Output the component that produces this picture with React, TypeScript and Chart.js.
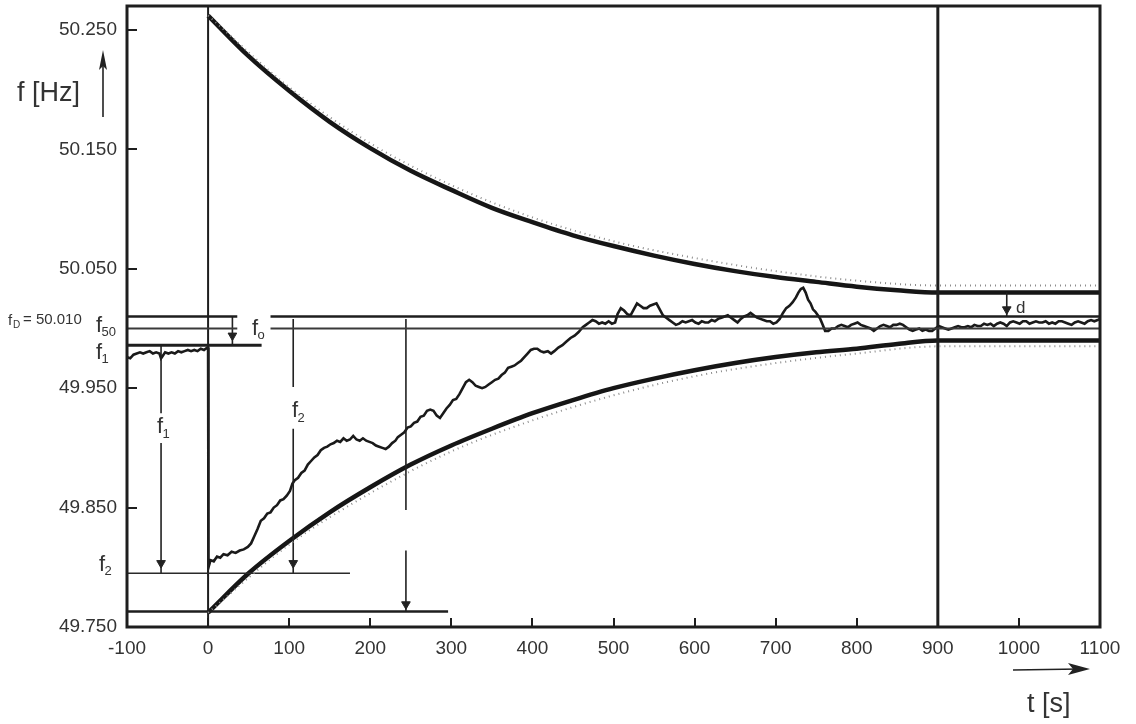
import React, { useEffect, useRef } from "react";
import { Chart, registerables } from "chart.js";

Chart.register(...registerables);

const FONT = '"Liberation Sans", Arial, sans-serif';
const INK = "#1e1e1e";
const TEXT = "#333333";

const X_TICKS = [-100, 0, 100, 200, 300, 400, 500, 600, 700, 800, 900, 1000, 1100];
const Y_TICKS = [49.75, 49.85, 49.95, 50.05, 50.15, 50.25];

// envelope curves (t in s, f in Hz)
const ENV_T = [0, 50, 100, 150, 200, 250, 300, 350, 400, 450, 500, 550, 600, 650, 700, 750, 800, 850, 900, 1100];
const UPPER_F = [50.262, 50.228, 50.199, 50.173, 50.151, 50.132, 50.116, 50.101, 50.089, 50.078, 50.069, 50.061, 50.054, 50.048, 50.043, 50.039, 50.035, 50.032, 50.030, 50.030];
const LOWER_F = [49.762, 49.795, 49.822, 49.846, 49.867, 49.886, 49.902, 49.916, 49.929, 49.940, 49.950, 49.958, 49.965, 49.971, 49.976, 49.980, 49.983, 49.987, 49.990, 49.990];

// tolerance (dotted grey) curves
const TOL_T = [0, 100, 200, 300, 400, 500, 600, 700, 800, 900, 1100];
const UPPER_TOL_F = [50.262, 50.202, 50.155, 50.120, 50.093, 50.073, 50.059, 50.048, 50.040, 50.036, 50.036];
const LOWER_TOL_F = [49.762, 49.819, 49.862, 49.897, 49.923, 49.944, 49.960, 49.971, 49.979, 49.985, 49.985];

// measured frequency trace [t, f]
const TRACE: [number, number][] = [
  [-100, 49.976], [-96, 49.975], [-92, 49.978], [-88, 49.979], [-84, 49.98], [-80, 49.979], [-76, 49.98], [-72, 49.981],
  [-68, 49.979], [-64, 49.98], [-60, 49.979], [-58, 49.975], [-56, 49.977], [-53, 49.98], [-49, 49.979], [-45, 49.98],
  [-41, 49.979], [-37, 49.981], [-33, 49.98], [-29, 49.981], [-25, 49.982], [-21, 49.981], [-17, 49.982], [-13, 49.981],
  [-9, 49.983], [-5, 49.982], [-1, 49.984], [0, 49.984], [0.5, 49.8], [3, 49.806], [7, 49.805], [11, 49.809], [15, 49.808],
  [19, 49.811], [24, 49.81], [29, 49.813], [34, 49.812], [39, 49.814], [44, 49.815], [49, 49.817], [53, 49.82], [57, 49.826],
  [61, 49.832], [65, 49.839], [69, 49.841], [73, 49.845], [77, 49.846], [81, 49.85], [85, 49.852], [89, 49.856], [93, 49.857],
  [97, 49.86], [101, 49.864], [104, 49.87], [107, 49.873], [111, 49.875], [115, 49.879], [119, 49.881], [123, 49.886],
  [127, 49.889], [131, 49.892], [135, 49.894], [139, 49.898], [143, 49.9], [147, 49.901], [151, 49.903], [155, 49.904],
  [159, 49.906], [163, 49.905], [167, 49.908], [171, 49.906], [175, 49.907], [179, 49.91], [183, 49.907], [187, 49.906],
  [191, 49.908], [195, 49.906], [199, 49.905], [203, 49.904], [207, 49.902], [211, 49.901], [215, 49.9], [219, 49.899],
  [223, 49.901], [227, 49.904], [231, 49.906], [234, 49.909], [238, 49.911], [242, 49.913], [246, 49.917], [250, 49.918],
  [254, 49.921], [258, 49.922], [262, 49.926], [266, 49.927], [270, 49.931], [274, 49.932], [278, 49.931], [282, 49.927],
  [286, 49.925], [290, 49.929], [294, 49.933], [298, 49.936], [302, 49.94], [306, 49.941], [310, 49.945], [314, 49.95],
  [318, 49.955], [322, 49.957], [326, 49.955], [330, 49.952], [334, 49.951], [338, 49.95], [342, 49.951], [346, 49.953],
  [350, 49.955], [354, 49.957], [358, 49.958], [362, 49.961], [366, 49.963], [370, 49.967], [374, 49.968], [378, 49.969],
  [382, 49.971], [386, 49.973], [390, 49.976], [394, 49.979], [398, 49.982], [402, 49.983], [406, 49.983], [410, 49.981],
  [414, 49.98], [419, 49.981], [423, 49.979], [427, 49.981], [432, 49.984], [437, 49.986], [442, 49.989], [447, 49.992],
  [452, 49.994], [457, 49.997], [462, 50.001], [466, 50.003], [470, 50.005], [474, 50.007], [478, 50.006], [482, 50.004],
  [486, 50.005], [490, 50.004], [494, 50.006], [498, 50.004], [502, 50.005], [505, 50.012], [509, 50.017], [513, 50.015],
  [517, 50.012], [521, 50.011], [525, 50.016], [529, 50.021], [533, 50.019], [537, 50.017], [541, 50.017], [545, 50.019],
  [549, 50.02], [553, 50.021], [557, 50.016], [561, 50.011], [565, 50.009], [569, 50.007], [573, 50.005], [577, 50.003],
  [581, 50.004], [585, 50.006], [589, 50.005], [593, 50.006], [597, 50.007], [601, 50.005], [605, 50.004], [609, 50.006],
  [613, 50.005], [617, 50.005], [621, 50.007], [625, 50.006], [629, 50.008], [633, 50.009], [637, 50.01], [641, 50.011],
  [645, 50.009], [649, 50.007], [653, 50.005], [657, 50.008], [661, 50.01], [665, 50.011], [669, 50.013], [673, 50.011],
  [677, 50.009], [681, 50.008], [685, 50.007], [689, 50.006], [693, 50.006], [697, 50.004], [701, 50.005], [705, 50.008],
  [709, 50.013], [713, 50.017], [717, 50.019], [721, 50.022], [725, 50.026], [728, 50.03], [731, 50.033], [734, 50.034],
  [737, 50.03], [740, 50.024], [743, 50.021], [746, 50.016], [749, 50.014], [752, 50.011], [755, 50.008], [758, 50.003],
  [761, 49.998], [765, 49.998], [769, 50.0], [773, 50.0], [777, 50.002], [781, 50.003], [785, 50.002], [789, 50.001],
  [793, 50.003], [797, 50.004], [801, 50.005], [805, 50.003], [809, 50.002], [813, 50.001], [817, 50.0], [821, 49.998],
  [825, 50.0], [829, 50.002], [833, 50.003], [837, 50.002], [841, 50.001], [845, 50.003], [849, 50.003], [853, 50.004],
  [857, 50.003], [861, 50.001], [865, 49.999], [869, 49.998], [873, 49.999], [877, 50.0], [881, 49.998], [885, 49.999],
  [889, 49.998], [893, 49.998], [897, 50.0], [901, 50.002], [905, 50.001], [909, 50.0], [913, 49.999], [917, 50.0],
  [921, 50.001], [925, 50.002], [929, 50.001], [933, 50.001], [937, 50.002], [941, 50.001], [945, 50.003], [949, 50.002],
  [953, 50.002], [957, 50.004], [961, 50.003], [965, 50.004], [969, 50.002], [973, 50.004], [977, 50.005], [981, 50.004],
  [985, 50.002], [989, 50.005], [993, 50.006], [997, 50.005], [1001, 50.004], [1005, 50.006], [1009, 50.006], [1013, 50.004],
  [1017, 50.005], [1021, 50.006], [1025, 50.005], [1029, 50.005], [1033, 50.006], [1037, 50.004], [1041, 50.005], [1045, 50.004],
  [1049, 50.006], [1053, 50.006], [1057, 50.005], [1061, 50.004], [1065, 50.003], [1069, 50.005], [1073, 50.006], [1077, 50.005],
  [1081, 50.004], [1085, 50.006], [1089, 50.007], [1093, 50.006], [1097, 50.007], [1100, 50.008],
];

// reference levels (Hz)
const F0 = 50.01;
const F50 = 50.0;
const F1 = 49.986;
const F2 = 49.795;
const FMIN = 49.763;
const F_MAX_END = 50.03;
const T_MIN = -100;
const T_MAX = 1100;
const F_LOW = 49.75;
const F_HIGH = 50.27;

// horizontal segments: [f, tStart, tEnd, width, color]
const H_SEGMENTS: [number, number, number, number, string][] = [
  [F0, T_MIN, 36, 2.5, INK],
  [F0, 77, T_MAX, 2.5, INK],
  [F50, T_MIN, 36, 2, "#3a3a3a"],
  [F50, 77, T_MAX, 2, "#3a3a3a"],
  [F1, T_MIN, 66, 3, INK],
  [F2, T_MIN, 175, 1.5, "#2a2a2a"],
  [FMIN, T_MIN, 296, 2.5, INK],
];

// vertical lines: [t, width]
const V_LINES: [number, number][] = [
  [0, 2],
  [900, 3],
];

// arrow shafts: [t, fFrom, fTo]
const ARROW_SHAFTS: [number, number, number][] = [
  [30, F0, F1],
  [-58, F1, 49.929],
  [-58, 49.904, F2],
  [105, 50.008, 49.951],
  [105, 49.916, F2],
  [244, 50.008, 49.848],
  [244, 49.814, FMIN],
  [985, F_MAX_END, F0],
];
// arrow heads (pointing down): [t, f]
const ARROW_HEADS: [number, number][] = [
  [30, 49.994],
  [-58, 49.8035],
  [105, 49.8035],
  [244, 49.769],
  [985, 50.016],
];

function lineDs(data: { x: number; y: number }[], width: number, color: string, extra: any = {}) {
  return {
    data,
    showLine: true,
    borderColor: color,
    backgroundColor: color,
    borderWidth: width,
    pointRadius: 0,
    fill: false,
    tension: 0,
    ...extra,
  };
}

function fsub(ctx: CanvasRenderingContext2D, x: number, y: number, sub: string, big = 22, small = 13, dy = 4) {
  ctx.font = `${big}px ${FONT}`;
  ctx.fillText("f", x, y);
  const w = ctx.measureText("f").width;
  ctx.font = `${small}px ${FONT}`;
  ctx.fillText(sub, x + w - 0.5, y + dy);
}

const decorPlugin = {
  id: "decor",
  afterDraw(chart: any) {
    const ctx: CanvasRenderingContext2D = chart.ctx;
    const { left, right, top, bottom } = chart.chartArea;
    const xs = chart.scales.x;
    const ys = chart.scales.y;
    ctx.save();
    // frame
    ctx.strokeStyle = INK;
    ctx.lineWidth = 3;
    ctx.strokeRect(left, top, right - left, bottom - top);
    // inward ticks
    ctx.lineWidth = 2;
    ctx.beginPath();
    for (const v of Y_TICKS) {
      const py = Math.round(ys.getPixelForValue(v));
      ctx.moveTo(left, py);
      ctx.lineTo(left + 10, py);
    }
    for (const v of X_TICKS) {
      const px = Math.round(xs.getPixelForValue(v));
      ctx.moveTo(px, bottom);
      ctx.lineTo(px, bottom - 9);
    }
    ctx.stroke();

    // axis titles
    ctx.fillStyle = TEXT;
    ctx.textBaseline = "alphabetic";
    ctx.textAlign = "left";
    ctx.font = `27px ${FONT}`;
    ctx.fillText("f [Hz]", 17, 101);
    ctx.fillText("t [s]", 1027, 712);

    // up arrow next to f [Hz]
    ctx.strokeStyle = "#222";
    ctx.fillStyle = "#222";
    ctx.lineWidth = 1.6;
    ctx.beginPath();
    ctx.moveTo(103, 117);
    ctx.lineTo(103, 60);
    ctx.stroke();
    ctx.beginPath();
    ctx.moveTo(103, 50);
    ctx.lineTo(99, 70);
    ctx.lineTo(103, 66);
    ctx.lineTo(107, 70);
    ctx.closePath();
    ctx.fill();

    // right arrow above t [s]
    ctx.beginPath();
    ctx.moveTo(1013, 670);
    ctx.lineTo(1080, 669);
    ctx.stroke();
    ctx.beginPath();
    ctx.moveTo(1090, 669);
    ctx.lineTo(1068, 663);
    ctx.lineTo(1073, 669);
    ctx.lineTo(1068, 675);
    ctx.closePath();
    ctx.fill();

    // labels
    ctx.fillStyle = TEXT;
    ctx.font = `15px ${FONT}`;
    ctx.fillText("f", 8, 325);
    ctx.font = `10px ${FONT}`;
    ctx.fillText("D", 13, 328);
    ctx.font = `15px ${FONT}`;
    ctx.fillText("= 50.010", 23, 324);

    fsub(ctx, 96, 332, "50", 22, 13, 4);
    fsub(ctx, 96, 359, "1", 22, 13, 4);
    fsub(ctx, 99, 571, "2", 22, 13, 4);
    fsub(ctx, 157, 433, "1", 22, 13, 5);
    fsub(ctx, 292, 417, "2", 22, 13, 5);
    fsub(ctx, 252, 335, "o", 22, 13, 4);
    ctx.font = `17px ${FONT}`;
    ctx.fillText("d", 1016, 313);
    ctx.restore();
  },
};

export default function App() {
  const ref = useRef<HTMLCanvasElement | null>(null);
  useEffect(() => {
    if (!ref.current) return;
    const datasets: any[] = [];

    datasets.push(
      lineDs(TOL_T.map((t, i) => ({ x: t, y: UPPER_TOL_F[i] })), 2, "#8c8c8c", { borderDash: [1, 4], cubicInterpolationMode: "monotone" })
    );
    datasets.push(
      lineDs(TOL_T.map((t, i) => ({ x: t, y: LOWER_TOL_F[i] })), 2, "#8c8c8c", { borderDash: [1, 4], cubicInterpolationMode: "monotone" })
    );
    for (const [f, t0, t1, w, c] of H_SEGMENTS) {
      datasets.push(lineDs([{ x: t0, y: f }, { x: t1, y: f }], w, c));
    }
    for (const [t, w] of V_LINES) {
      datasets.push(lineDs([{ x: t, y: F_LOW }, { x: t, y: F_HIGH }], w, INK));
    }
    for (const [t, a, b] of ARROW_SHAFTS) {
      datasets.push(lineDs([{ x: t, y: a }, { x: t, y: b }], 1.6, "#222"));
    }
    datasets.push({
      data: ARROW_HEADS.map(([t, f]) => ({ x: t, y: f })),
      showLine: false,
      pointStyle: "triangle",
      rotation: 180,
      pointRadius: 5,
      pointBackgroundColor: "#222",
      pointBorderColor: "#222",
      pointBorderWidth: 1,
    });
    datasets.push(
      lineDs(ENV_T.map((t, i) => ({ x: t, y: UPPER_F[i] })), 4.5, "#161616", { cubicInterpolationMode: "monotone" })
    );
    datasets.push(
      lineDs(ENV_T.map((t, i) => ({ x: t, y: LOWER_F[i] })), 4.5, "#161616", { cubicInterpolationMode: "monotone" })
    );
    datasets.push(lineDs(TRACE.map(([t, f]) => ({ x: t, y: f })), 2.6, "#1a1a1a"));

    const chart = new Chart(ref.current, {
      type: "scatter",
      data: { datasets },
      options: {
        animation: false,
        responsive: false,
        maintainAspectRatio: false,
        layout: { padding: { left: 0, right: 36, top: 5, bottom: 0 } },
        plugins: { legend: { display: false }, tooltip: { enabled: false } },
        scales: {
          x: {
            type: "linear",
            min: T_MIN,
            max: T_MAX,
            grid: { display: false, drawTicks: false },
            border: { display: false },
            afterBuildTicks: (s: any) => {
              s.ticks = X_TICKS.map((v) => ({ value: v }));
            },
            afterFit: (s: any) => {
              s.height = 97;
              s.paddingLeft = 0;
              s.paddingRight = 0;
            },
            ticks: {
              color: TEXT,
              font: { family: FONT, size: 19 },
              padding: 10,
              maxRotation: 0,
              autoSkip: false,
              callback: (v: any) => String(v),
            },
          },
          y: {
            type: "linear",
            min: F_LOW,
            max: F_HIGH,
            grid: { display: false, drawTicks: false },
            border: { display: false },
            afterBuildTicks: (s: any) => {
              s.ticks = Y_TICKS.map((v) => ({ value: v }));
            },
            afterFit: (s: any) => {
              s.width = 127;
              s.paddingTop = 0;
              s.paddingBottom = 0;
            },
            ticks: {
              color: TEXT,
              font: { family: FONT, size: 19 },
              padding: 10,
              autoSkip: false,
              callback: (v: any) => Number(v).toFixed(3),
            },
          },
        },
      },
      plugins: [decorPlugin],
    });
    return () => chart.destroy();
  }, []);

  return (
    <div style={{ position: "absolute", left: 0, top: 0, width: 1136, height: 724, background: "#fff" }}>
      <canvas ref={ref} width={1136} height={724} style={{ display: "block" }} />
    </div>
  );
}
